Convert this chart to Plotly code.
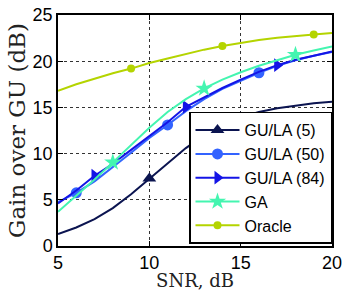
import plotly.graph_objects as go

snr = [5, 6, 7, 8, 9, 10, 11, 12, 13, 14, 15, 16, 17, 18, 19, 20]

gula5 = [1.3, 2.0, 2.9, 4.1, 5.6, 7.3, 9.0, 10.6, 12.0, 13.1, 13.9, 14.5, 14.9, 15.2, 15.45, 15.6]
gula50 = [4.75, 5.76, 7.0, 8.5, 10.1, 11.7, 13.1, 14.6, 15.9, 17.0, 17.9, 18.75, 19.5, 20.1, 20.6, 21.0]
gula84 = [4.6, 6.0, 7.6, 8.9, 10.4, 11.9, 13.4, 15.06, 16.1, 17.1, 18.0, 18.85, 19.57, 20.15, 20.6, 21.05]
ga = [3.7, 5.4, 7.2, 9.05, 10.9, 12.8, 14.5, 15.9, 17.05, 18.0, 18.8, 19.5, 20.1, 20.7, 21.15, 21.6]
oracle = [16.8, 17.5, 18.1, 18.7, 19.2, 19.8, 20.3, 20.8, 21.25, 21.65, 22.0, 22.3, 22.55, 22.75, 22.9, 23.05]

names = ["GU/LA (5)", "GU/LA (50)", "GU/LA (84)", "GA", "Oracle"]
marker_x = [[10, 15], [6, 11, 16], [7, 12, 17], [8, 13, 18], [9, 14, 19]]

series = [gula5, gula50, gula84, ga, oracle]
colors = ["#0b1450", "#3363ff", "#1414e6", "#44f5b0", "#b4d400"]
symbols = ["triangle-up", "circle", "triangle-right", "star", "circle"]
sizes = [12, 11, 12, 13, 8]

fig = go.Figure()
for name, ys, mx, col, sym, sz in zip(names, series, marker_x, colors, symbols, sizes):
    fig.add_trace(go.Scatter(x=snr, y=ys, mode="lines", line=dict(color=col, width=2),
                             showlegend=False, hoverinfo="skip"))
    my = [ys[snr.index(v)] for v in mx]
    fig.add_trace(go.Scatter(x=mx, y=my, mode="markers",
                             marker=dict(symbol=sym, size=sz, color=col),
                             showlegend=False))
    fig.add_trace(go.Scatter(x=[None], y=[None], mode="lines+markers", name=name,
                             line=dict(color=col, width=2),
                             marker=dict(symbol=sym, size=sz, color=col)))

axis_common = dict(showline=True, linecolor="black", linewidth=1.5, mirror="ticks",
                   ticks="inside", ticklen=5, tickcolor="black",
                   showgrid=True, gridcolor="#333", griddash="dot", gridwidth=1,
                   zeroline=False, automargin=False,
                   tickfont=dict(family="Liberation Sans, Arial", size=18, color="black"))

fig.update_xaxes(range=[5, 20], tickvals=[5, 10, 15, 20], **axis_common,
                 title=dict(text="SNR, dB", standoff=0,
                            font=dict(family="DejaVu Serif", size=18, color="#222")))
fig.update_yaxes(range=[0, 25], tickvals=[0, 5, 10, 15, 20, 25], **axis_common,
                 title=dict(text="Gain over GU (dB)", standoff=1,
                            font=dict(family="DejaVu Serif", size=23, color="#222")))

fig.update_layout(
    width=348, height=291,
    margin=dict(l=58, r=16, t=15, b=45),
    plot_bgcolor="white", paper_bgcolor="white",
    legend=dict(x=1.0, y=0.01, xanchor="right", yanchor="bottom",
                bgcolor="white", bordercolor="black", borderwidth=1.5,
                font=dict(family="Liberation Sans, Arial", size=16, color="black"),
                tracegroupgap=0, itemwidth=44),
)

fig.write_html("out.html", config={"displayModeBar": False},
               post_script="document.body.style.margin='0';document.body.style.padding='0';")
